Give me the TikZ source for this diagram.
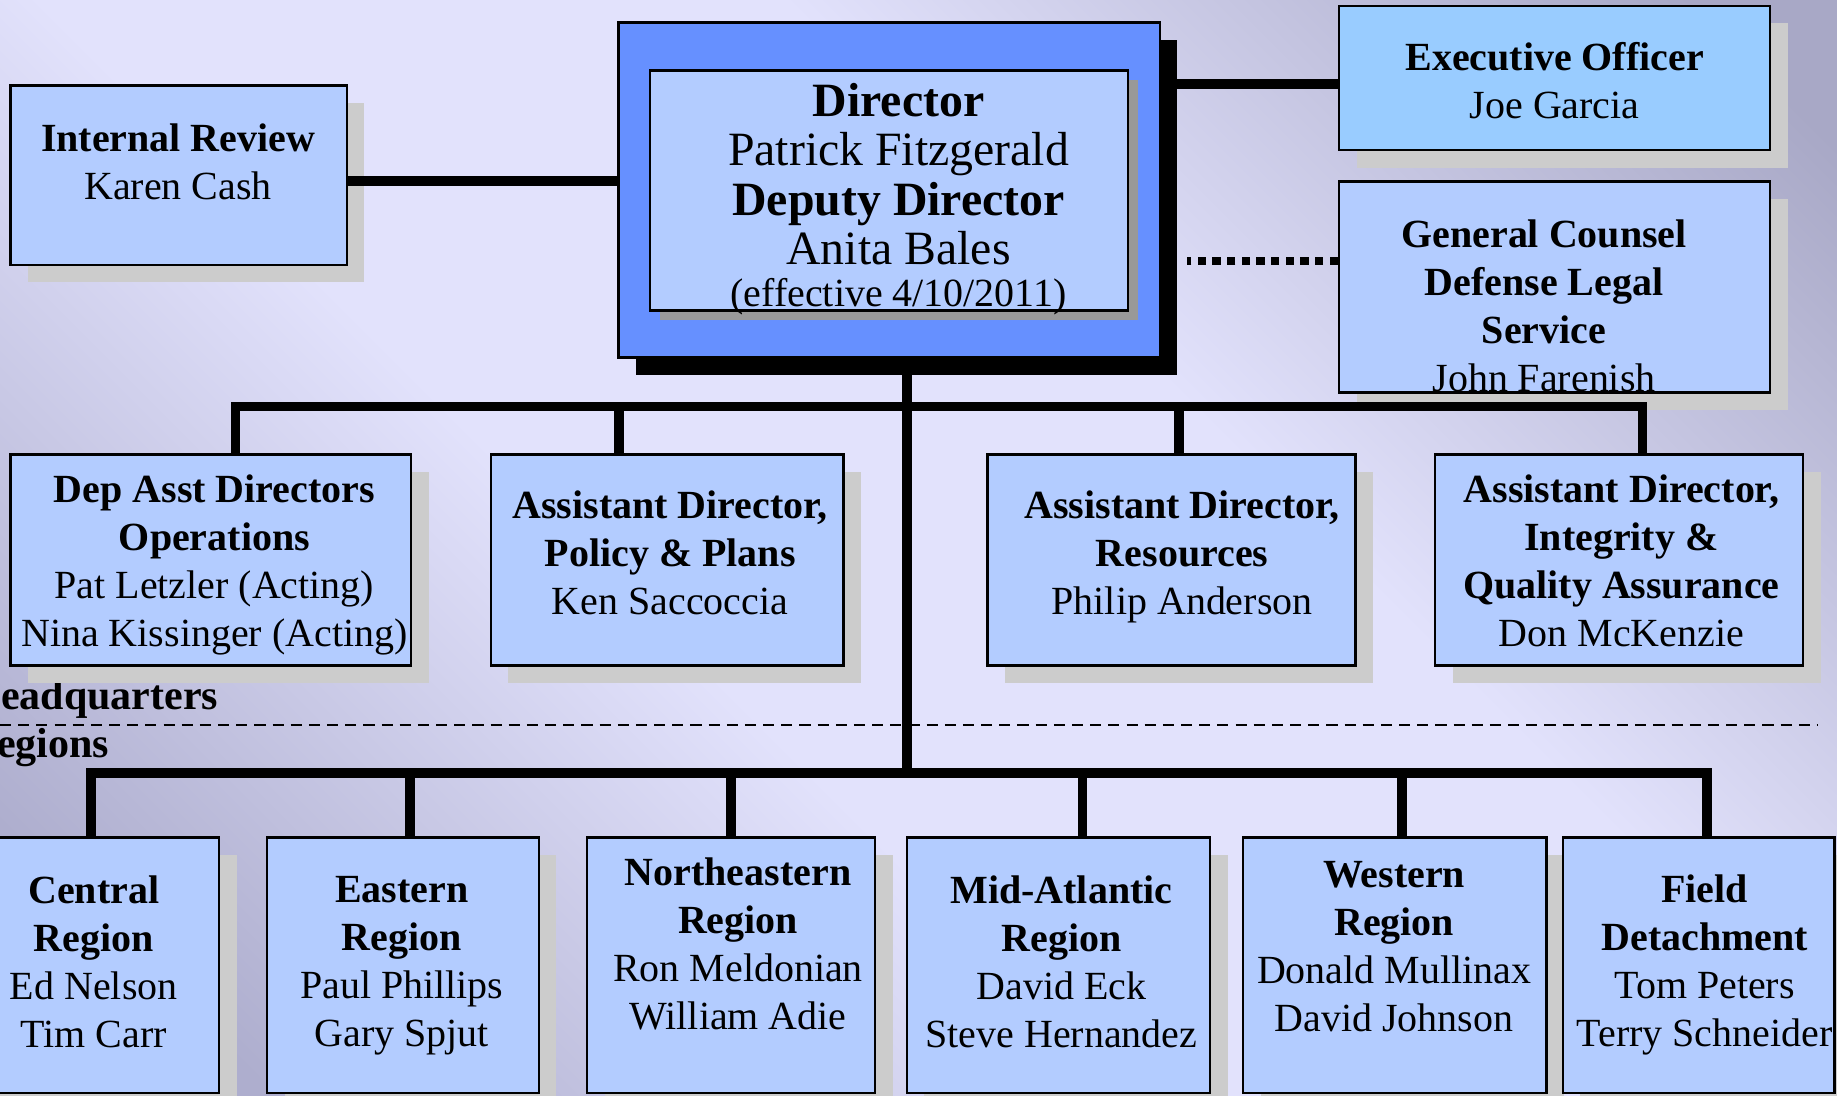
\documentclass[tikz,border=0pt]{standalone}
\usepackage{fontspec}
\setmainfont{Liberation Serif}
\usetikzlibrary{shadows,calc}
\definecolor{boxblue}{HTML}{B3CCFF}
\definecolor{execblue}{HTML}{99CCFF}
\definecolor{dirblue}{HTML}{6690FF}
\definecolor{shadowgray}{HTML}{CCCCCC}
\definecolor{innershadow}{HTML}{999999}
\definecolor{bglight}{HTML}{E2E2FC}
\definecolor{bgtr}{HTML}{A8A8C6}
\definecolor{bgbl}{HTML}{AEAECE}
\pgfdeclareverticalshading{bgshade}{100bp}{color(0bp)=(bgbl); color(21bp)=(bgbl); color(42bp)=(bglight); color(60bp)=(bglight); color(82bp)=(bgtr); color(100bp)=(bgtr)}
\tikzset{
  orgbox/.style={draw=black, line width=0.6pt, fill=boxblue, inner sep=0pt,
    drop shadow={shadow xshift=0.15cm, shadow yshift=-0.15cm, fill=shadowgray, opacity=1}},
  dirouter/.style={draw=black, line width=0.6pt, fill=dirblue, inner sep=0pt,
    drop shadow={shadow xshift=0.15cm, shadow yshift=-0.15cm, fill=black, opacity=1}},
  dirinner/.style={draw=black, line width=0.6pt, fill=boxblue, inner sep=0pt,
    drop shadow={shadow xshift=0.08cm, shadow yshift=-0.08cm, fill=innershadow, opacity=1}},
  txt/.style={align=center, inner sep=0pt, font=\fontsize{9.7}{11.66}\selectfont},
  sectxt/.style={inner sep=0pt, font=\fontsize{10.2}{12}\selectfont\bfseries},
  link/.style={line width=2.4pt, line join=miter},
  dotlink/.style={line width=0.07cm, dash pattern=on 0.07cm off 0.055cm},
  sepline/.style={line width=0.6pt, dash pattern=on 0.095cm off 0.06cm},
}
\newcommand\orgnode[6][orgbox]{%
  \node[#1, minimum width={((#5)-(#3))*0.01cm}, minimum height={((#6)-(#4))*0.01cm}]
    (#2) at ({((#3)+(#5))/2},{((#4)+(#6))/2}) {};}
\begin{document}
\begin{tikzpicture}[x=0.01cm, y=-0.01cm]
\useasboundingbox (0,0) rectangle (1568,935);
\clip (0,0) rectangle (1568,935);
\shade[shading=bgshade, shading angle=-45] (0,0) rectangle (1568,935);

% separator
\node[sectxt, anchor=east] (hq-lbl) at (187,597) {Headquarters};
\node[sectxt, anchor=east] (reg-lbl) at (94,638) {Regions};
\coordinate (sepL) at (0,619);
\coordinate (sepR) at (1552,619);
\draw[sepline] (sepL) -- (sepR);

% boxes
\orgnode{ir}{9}{73}{296}{226}
\orgnode[dirouter]{dirout}{528}{19}{990}{305}
\orgnode[dirinner]{dirin}{555}{60}{963}{265}
\orgnode[orgbox,fill=execblue]{exec}{1143}{5}{1511}{128}
\orgnode{gc}{1143}{155}{1511}{335}
\orgnode{dep}{9}{388}{351}{568}
\orgnode{pol}{419}{388}{720}{568}
\orgnode{res}{843}{388}{1157}{568}
\orgnode{integ}{1225}{388}{1539}{568}
\orgnode{central}{-30}{715}{187}{933}
\orgnode{eastern}{228}{715}{460}{933}
\orgnode{northeast}{501}{715}{747}{933}
\orgnode{midatl}{774}{715}{1033}{933}
\orgnode{western}{1061}{715}{1320}{933}
\orgnode{field}{1334}{715}{1566}{933}

% connectors
\draw[link] ($(ir.east)+(0,5)$) -- ($(ir.east -| dirout.west)+(0,5)$);
\draw[link] ($(exec.west)+(0,5)$) -- ($(exec.west -| dirout.east)+(0,5)$);
\coordinate (gcdot) at ($(gc.west)+(0,-22)$);
\draw[dotlink] (gcdot) -- ($(gcdot -| dirout.east)+(22,0)$);

\coordinate (trunktop) at ($(dirout.south)+(15,0)$);
\coordinate (hqbus) at (774,347);
\coordinate (regbus) at (774,660);
\draw[link] (trunktop) -- (trunktop |- regbus);

\coordinate (dep-in) at ($(dep.north)+(21,0)$);
\coordinate (pol-in) at ($(pol.north)+(-41.5,0)$);
\coordinate (res-in) at ($(res.north)+(6,0)$);
\coordinate (integ-in) at ($(integ.north)+(20,0)$);
\draw[link] (dep-in) -- (dep-in |- hqbus) -- (integ-in |- hqbus) -- (integ-in);
\draw[link] (pol-in) -- (pol-in |- hqbus);
\draw[link] (res-in) -- (res-in |- hqbus);

\coordinate (central-in) at ($(central.north)+(-0.5,0)$);
\coordinate (eastern-in) at ($(eastern.north)+(6,0)$);
\coordinate (northeast-in) at ($(northeast.north)+(0,0)$);
\coordinate (midatl-in) at ($(midatl.north)+(20.5,0)$);
\coordinate (western-in) at ($(western.north)+(6.5,0)$);
\coordinate (field-in) at ($(field.north)+(7,0)$);
\draw[link] (central-in) -- (central-in |- regbus) -- (field-in |- regbus) -- (field-in);
\foreach \n in {eastern,northeast,midatl,western}
  \draw[link] (\n-in) -- (\n-in |- regbus);

% texts
\node[txt] (ir-t) at (152,138) {\textbf{Internal Review}\\Karen Cash};
\node[align=center, inner sep=0pt, font=\fontsize{11.6}{11.95}\selectfont] (dir-t) at (767,170)
  {\textbf{Director}\\Patrick Fitzgerald\\\textbf{Deputy Director}\\Anita Bales\\[-0.06cm]{\fontsize{9.7}{11.66}\selectfont(effective 4/10/2011)}};
\node[txt] (exec-t) at (1327,69) {\textbf{Executive Officer}\\Joe Garcia};
\node[txt] (gc-t) at (1318,261) {\textbf{General Counsel}\\\textbf{Defense Legal}\\\textbf{Service}\\John Farenish};
\node[txt] (dep-t) at (183,482) {\textbf{Dep Asst Directors}\\\textbf{Operations}\\Pat Letzler (Acting)\\Nina Kissinger (Acting)};
\node[txt] (pol-t) at (572,472) {\textbf{Assistant Director,}\\\textbf{Policy \& Plans}\\Ken Saccoccia};
\node[txt] (res-t) at (1009,475) {\textbf{Assistant Director,}\\\textbf{Resources}\\Philip Anderson};
\node[txt] (integ-t) at (1384,479) {\textbf{Assistant Director,}\\\textbf{Integrity \&}\\\textbf{Quality Assurance}\\Don McKenzie};
\node[txt] (central-t) at (80,821) {\textbf{Central}\\\textbf{Region}\\Ed Nelson\\Tim Carr};
\node[txt] (eastern-t) at (343,824) {\textbf{Eastern}\\\textbf{Region}\\Paul Phillips\\Gary Spjut};
\node[txt] (northeast-t) at (630,806) {\textbf{Northeastern}\\\textbf{Region}\\Ron Meldonian\\William Adie};
\node[txt] (midatl-t) at (906,821) {\textbf{Mid-Atlantic}\\\textbf{Region}\\David Eck\\Steve Hernandez};
\node[txt] (western-t) at (1190,808) {\textbf{Western}\\\textbf{Region}\\Donald Mullinax\\David Johnson};
\node[txt] (field-t) at (1455,824) {\textbf{Field}\\\textbf{Detachment}\\Tom Peters\\Terry Schneider};
\end{tikzpicture}
\end{document}
